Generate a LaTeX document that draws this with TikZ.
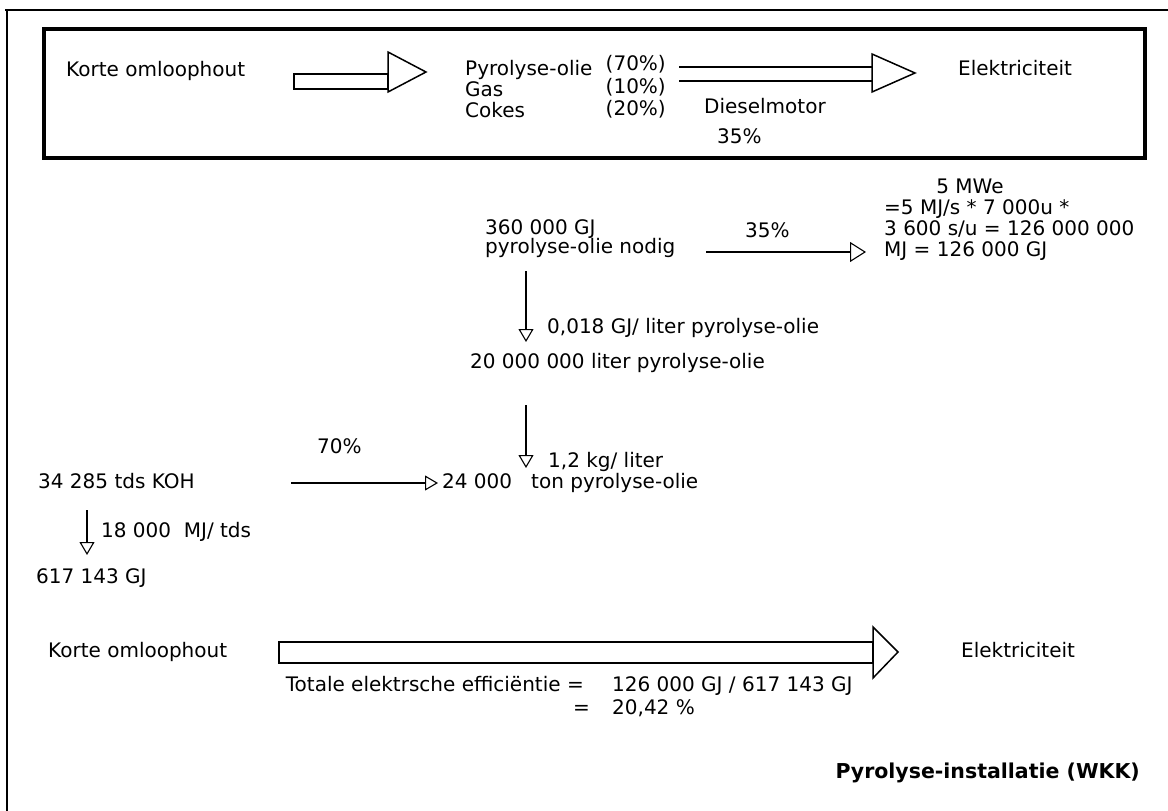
\documentclass[tikz,border=0pt]{standalone}
\usepackage{fontspec}
\setmainfont{DejaVu Sans}
\usetikzlibrary{arrows.meta,positioning}

\begin{document}
\begin{tikzpicture}[x=1pt,y=-1pt,
    lbl/.style={anchor=west,inner sep=0pt,text height=15pt,text depth=4pt,font=\fontsize{20}{24}\selectfont},
    pijl/.style={line width=1.3pt,-{Triangle[open,length=13pt,width=15pt,line width=1.1pt]}},
    grotepijl/.style={line width=1.3pt,-{Triangle[open,length=16pt,width=20pt,line width=1.1pt]}},
    blok/.style={line width=1.5pt,fill=white}]
    \useasboundingbox (0,0) rectangle (1168,811);

    % kader
    \draw[line width=1.5pt] (5,10) -- (1168,10);
    \draw[line width=2.5pt] (7,10) -- (7,811);
    \draw[line width=4pt] (44,29) rectangle (1145,158);

    % bovenste rij
    \node[lbl] (hout1) at (66,71) {Korte omloophout};
    \node[lbl] (olie) at (465,70) {Pyrolyse-olie};
    \node[lbl] (gas) at (465,91) {Gas};
    \node[lbl] (cokes) at (465,112) {Cokes};
    \node[lbl,anchor=east] (p70) at (666,65) {(70\%)};
    \node[lbl,anchor=east] (p10) at (666,88) {(10\%)};
    \node[lbl,anchor=east] (p20) at (666,110) {(20\%)};
    \node[lbl] (elek1) at (958,70) {Elektriciteit};
    \node[lbl] (diesel) at (704,108) {Dieselmotor};
    \node[lbl] (rend1) at (717,138) {35\%};

    \draw[blok] (294,74) rectangle (388,89);
    \draw[blok] (388,52) -- (426,72) -- (388,92) -- cycle;
    \draw[line width=1.5pt] (679,67) -- (872,67);
    \draw[line width=1.5pt] (679,81) -- (872,81);
    \draw[blok] (872,54) -- (915,73) -- (872,92) -- cycle;

    % berekening
    \node[lbl,anchor=center] (mwe) at (970,188) {5 MWe};
    \node[lbl] (reken1) at (884,209) {=5 MJ/s * 7 000u *};
    \node[lbl] (reken2) at (884,230) {3 600 s/u = 126 000 000};
    \node[lbl] (reken3) at (884,251) {MJ = 126 000 GJ};
    \node[lbl] (nodig1) at (485,229) {360 000 GJ};
    \node[lbl] (nodig2) at (485,248) {pyrolyse-olie nodig};
    \node[lbl] (rend2) at (745,232) {35\%};
    \node[lbl] (gjl) at (547,328) {0,018 GJ/ liter pyrolyse-olie};
    \node[lbl] (liter) at (470,363) {20 000 000 liter pyrolyse-olie};
    \node[lbl] (kgl) at (548,462) {1,2 kg/ liter};
    \node[lbl] (ton2) at (531,483) {ton pyrolyse-olie};
    \node[lbl] (ton1) at (442,483) {24 000};
    \node[lbl] (rend3) at (317,448) {70\%};
    \node[lbl] (koh) at (38,483) {34 285 tds KOH};
    \node[lbl] (mjtds) at (101,532) {18 000\ \ MJ/ tds};
    \node[lbl] (gj) at (36,578) {617 143 GJ};

    \coordinate (a1) at (706,252);
    \coordinate (a2) at (866,252);
    \coordinate (b1) at (526,271);
    \coordinate (b2) at (526,342);
    \coordinate (c1) at (526,405);
    \coordinate (c2) at (526,468);
    \coordinate (d1) at (291,483);
    \coordinate (d2) at (438,483);
    \coordinate (e1) at (87,510);
    \coordinate (e2) at (87,555);
    \draw[grotepijl] (a1) -- (a2);
    \draw[pijl] (b1) -- (b2);
    \draw[pijl] (c1) -- (c2);
    \draw[pijl] (d1) -- (d2);
    \draw[pijl] (e1) -- (e2);

    % onderste rij
    \node[lbl] (hout2) at (48,652) {Korte omloophout};
    \node[lbl] (elek2) at (961,652) {Elektriciteit};
    \draw[blok,line width=2pt] (279,642) rectangle (873,663);
    \draw[blok] (873,627) -- (898,652) -- (873,678) -- cycle;
    \node[lbl,anchor=east] (eff) at (584,686) {Totale elektrsche efficiëntie =};
    \node[lbl] (deling) at (612,686) {126 000 GJ / 617 143 GJ};
    \node[lbl,anchor=east] (is) at (590,709) {=};
    \node[lbl] (uitkomst) at (612,709) {20,42 \%};
    \node[lbl,anchor=east,font=\fontsize{20.5}{24}\selectfont\bfseries] (titel) at (1140,773) {Pyrolyse-installatie (WKK)};
\end{tikzpicture}
\end{document}
